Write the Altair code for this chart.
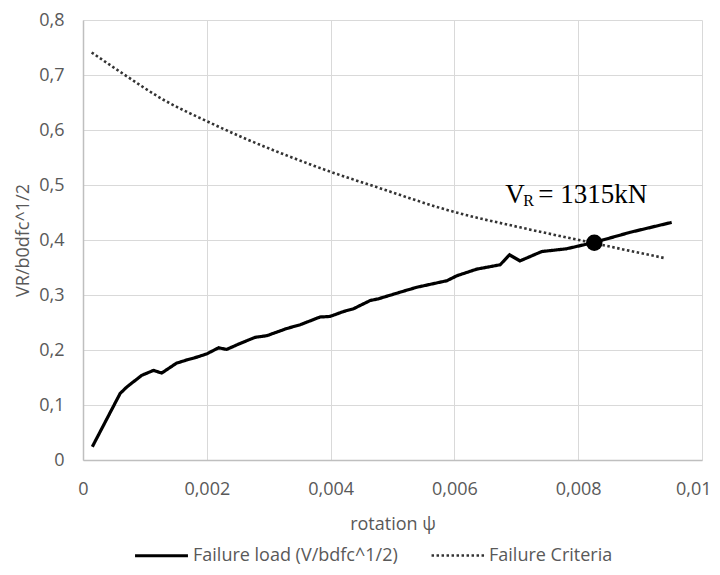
import altair as alt
import pandas as pd

# Failure load curve (V/bdfc^1/2) vs rotation
x_load = [0.00015, 0.00060, 0.00071, 0.00095, 0.00114, 0.00127, 0.00151, 0.00168,
          0.00184, 0.00200, 0.00219, 0.00232, 0.00254, 0.00278, 0.00297, 0.00329,
          0.00351, 0.00383, 0.00399, 0.00421, 0.00437, 0.00464, 0.00477, 0.00512,
          0.00539, 0.00588, 0.00604, 0.00636, 0.00674, 0.00689, 0.00706, 0.00741,
          0.00781, 0.00808, 0.00824, 0.00884, 0.00951]
y_load = [0.024, 0.121, 0.133, 0.154, 0.163, 0.158, 0.176, 0.182,
          0.187, 0.193, 0.204, 0.201, 0.212, 0.223, 0.226, 0.239,
          0.246, 0.260, 0.261, 0.270, 0.275, 0.290, 0.293, 0.305,
          0.314, 0.326, 0.335, 0.347, 0.355, 0.373, 0.362, 0.379,
          0.384, 0.391, 0.395, 0.414, 0.432]

# Failure criteria curve
x_crit = [0.00014, 0.00065, 0.00130, 0.00200, 0.00265, 0.00340, 0.00405,
          0.00464, 0.00603, 0.00706, 0.00801, 0.00940]
y_crit = [0.741, 0.702, 0.655, 0.616, 0.583, 0.549, 0.522,
          0.500, 0.450, 0.423, 0.400, 0.367]

series_names = ["Failure load (V/bdfc^1/2)", "Failure Criteria"]

# Intersection point and its annotation
point_x = [0.00826]
point_y = [0.395]
label_x = [0.00682]
label_y = [0.468]
label_main = "V"
label_sub = "R"
label_rest = "= 1315kN"

x_ticks = [0, 0.002, 0.004, 0.006, 0.008, 0.01]
y_ticks = [0, 0.1, 0.2, 0.3, 0.4, 0.5, 0.6, 0.7, 0.8]

df_load = pd.DataFrame({"x": x_load, "y": y_load, "series": series_names[0]})
df_crit = pd.DataFrame({"x": x_crit, "y": y_crit, "series": series_names[1]})
df_pt = pd.DataFrame({"x": point_x, "y": point_y})
df_lab = pd.DataFrame({"x": label_x, "y": label_y})

FONT = "Open Sans"
GREY = "#595959"
label_expr = "replace(format(datum.value, '~g'), '.', ',')"

xs = alt.Scale(domain=[0, 0.01], nice=False, zero=False)
ys = alt.Scale(domain=[0, 0.8], nice=False)

last_x = "datum.value >= 0.0099"
x_enc = alt.X("x:Q", scale=xs, title="rotation \u03c8",
              axis=alt.Axis(values=x_ticks, labelExpr=label_expr, ticks=False, labelFlush=False,
                            labelPadding=20, titlePadding=17,
                            labelAlign={"condition": {"test": last_x, "value": "right"}, "value": "center"},
                            labelOffset={"condition": {"test": last_x, "value": 9}, "value": 0}))
y_enc = alt.Y("y:Q", scale=ys, title="VR/b0dfc^1/2",
              axis=alt.Axis(values=y_ticks, labelExpr=label_expr, ticks=False, labelFlush=False,
                            labelPadding=19, titlePadding=6))

color_enc = alt.Color("series:N",
                      scale=alt.Scale(domain=series_names, range=["#000000", "#333333"]),
                      legend=alt.Legend(title=None, orient="none", direction="horizontal",
                                        legendX=50, legendY=507, symbolType="stroke",
                                        symbolSize=2800, labelFont=FONT, labelFontSize=18,
                                        labelColor=GREY, columnPadding=28, labelOffset=3,
                                        labelLimit=0))
dash_enc = alt.StrokeDash("series:N",
                          scale=alt.Scale(domain=series_names, range=[[1, 0], [2.5, 2.5]]),
                          legend=None)
width_enc = alt.StrokeWidth("series:N",
                            scale=alt.Scale(domain=series_names, range=[3.2, 2.6]),
                            legend=None)

load_line = alt.Chart(df_load).mark_line(interpolate="linear").encode(
    x=x_enc, y=y_enc, color=color_enc, strokeDash=dash_enc, strokeWidth=width_enc)
crit_line = alt.Chart(df_crit).mark_line(interpolate="monotone").encode(
    x=x_enc, y=y_enc, color=color_enc, strokeDash=dash_enc, strokeWidth=width_enc)

dot = alt.Chart(df_pt).mark_circle(size=270, color="black", opacity=1).encode(
    x=alt.X("x:Q", scale=xs), y=alt.Y("y:Q", scale=ys))

t_main = alt.Chart(df_lab).mark_text(text=label_main, font="Liberation Serif", fontSize=27,
                                     align="left", baseline="alphabetic", color="black").encode(
    x=alt.X("x:Q", scale=xs), y=alt.Y("y:Q", scale=ys))
t_sub = alt.Chart(df_lab).mark_text(text=label_sub, font="Liberation Serif", fontSize=16,
                                    align="left", baseline="alphabetic", color="black", dx=18, dy=3).encode(
    x=alt.X("x:Q", scale=xs), y=alt.Y("y:Q", scale=ys))
t_rest = alt.Chart(df_lab).mark_text(text=label_rest, font="Liberation Serif", fontSize=27,
                                     align="left", baseline="alphabetic", color="black", dx=33).encode(
    x=alt.X("x:Q", scale=xs), y=alt.Y("y:Q", scale=ys))

chart = alt.layer(load_line, crit_line, dot, t_main, t_sub, t_rest).properties(
    width=619, height=440,
    autosize=alt.AutoSizeParams(type="none"),
    padding={"left": 75, "top": 12, "right": 10, "bottom": 107},
).configure_view(stroke=None).configure_axis(
    labelFont=FONT, labelFontSize=18, labelColor=GREY,
    titleFont=FONT, titleFontSize=18, titleColor=GREY, titleFontWeight="normal",
    gridColor="#d9d9d9", gridWidth=1, domainColor="#bfbfbf", domainWidth=1.5,
)

chart.save("out.html", embed_options={"renderer": "svg", "actions": False})
